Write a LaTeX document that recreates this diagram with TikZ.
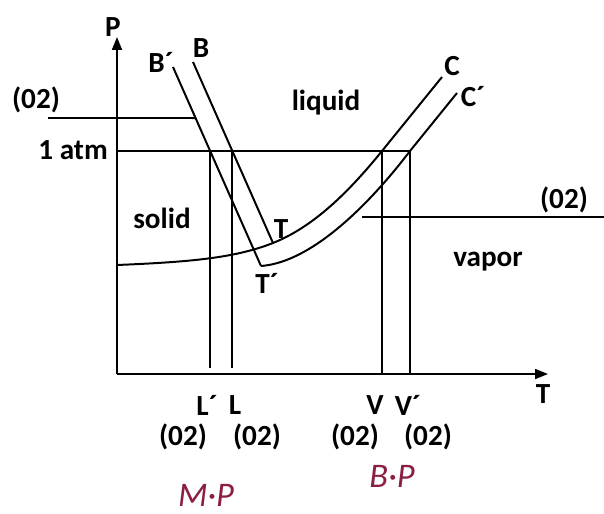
\documentclass[tikz,border=0pt]{standalone}
\usepackage{fontspec}
\setmainfont{Carlito}
\usetikzlibrary{arrows.meta,positioning,calc}
\definecolor{inkred}{RGB}{140,30,70}

\begin{document}
\begin{tikzpicture}[
  x=0.0265cm, y=-0.0265cm,
  font=\fontsize{22}{25}\selectfont\bfseries,
  line/.style={line width=1.5pt, black},
  axis/.style={line/.try, -{Triangle[length=3.4mm,width=2.6mm]}},
  lbl/.style={inner sep=0pt, anchor=center},
  hand/.style={lbl, text=inkred, font=\fontsize{26}{28}\selectfont\itshape},
  ]
\useasboundingbox (0,0) rectangle (604,514);
% key points (picture pixels, y down)
\coordinate (O)    at (117,374);
\coordinate (Ptip) at (117,37);
\coordinate (Ttip) at (548,374);
\coordinate (Bpe)  at (173,67);
\coordinate (Tp)   at (261,266);
\coordinate (Be)   at (193,62);
\coordinate (Tr)   at (273,243);
\coordinate (S0)   at (117,265);
\coordinate (Vt)   at (382,151);
\coordinate (Vpt)  at (410,151);
\coordinate (Ce)   at (442,77);
\coordinate (Cpe)  at (457,93);
\coordinate (atmL) at (117,151);
\coordinate (mkL)  at (48,118);
\coordinate (mkLf) at (300,118);
\coordinate (mkR)  at (362,217);
\coordinate (mkRe) at (604,217);
\coordinate (Lpt)  at (intersection of Bpe--Tp and atmL--Vpt);
\coordinate (Lt)   at (intersection of Be--Tr and atmL--Vpt);
\coordinate (mkLe) at (intersection of Bpe--Tp and mkL--mkLf);
% axes
\draw[axis] (O) -- (Ptip);
\draw[axis] (O) -- (Ttip);
% melting lines
\draw[line] (Bpe) -- (Tp);
\draw[line] (Be) -- (Tr);
% sublimation and vapour curves
\draw[line] (S0) .. controls (190,262) and (235,258) .. (Tr)
  .. controls (313,227) and (348,193) .. (Vt) -- (Ce);
\draw[line] (Tp) .. controls (315,262) and (375,197) .. (Vpt) -- (Cpe);
% 1 atm and marks
\draw[line] (atmL) -- (Vpt);
\draw[line] (mkL) -- (mkLe);
\draw[line] (mkR) -- (mkRe);
% drop lines
\draw[line] (Lpt) -- (Lpt |- 0,368);
\draw[line] (Lt) -- (Lt |- 0,368);
\draw[line] (Vt) -- (Vt |- O);
\draw[line] (Vpt) -- (Vpt |- O);
% labels
\node[lbl] (pP)   at (113,27)  {P};
\node[lbl] (pT)   at (543,394) {T};
\node[lbl] (pBp)  at (161,62)  {B´};
\node[lbl] (pB)   at (201,48)  {B};
\node[lbl] (pC)   at (452,66)  {C};
\node[lbl] (pCp)  at (473,97)  {C´};
\node[lbl] (pTr)  at (281,229) {T};
\node[lbl] (pTp)  at (267,283) {T´};
\node[lbl] (liq)  at (326,103) {liquid};
\node[lbl] (sol)  at (162,218) {solid};
\node[lbl] (vap)  at (488,262) {vapor};
\node[lbl, anchor=east] (atm) at (108,150) {1 atm};
\node[lbl] (mk1)  at (36,100)  {(02)};
\node[lbl] (mk2)  at (564,200) {(02)};
\node[lbl] (pLp)  at (207,405) {L´};
\node[lbl] (pL)   at (235,405) {L};
\node[lbl] (pV)   at (375,405) {V};
\node[lbl] (pVp)  at (408,405) {V´};
\node[lbl] (mk3)  at (183,437) {(02)};
\node[lbl] (mk4)  at (257,437) {(02)};
\node[lbl] (mk5)  at (355,437) {(02)};
\node[lbl] (mk6)  at (428,437) {(02)};
\node[hand] (mp)  at (206,495) {M·P};
\node[hand] (bp)  at (392,476) {B·P};
\end{tikzpicture}
\end{document}
